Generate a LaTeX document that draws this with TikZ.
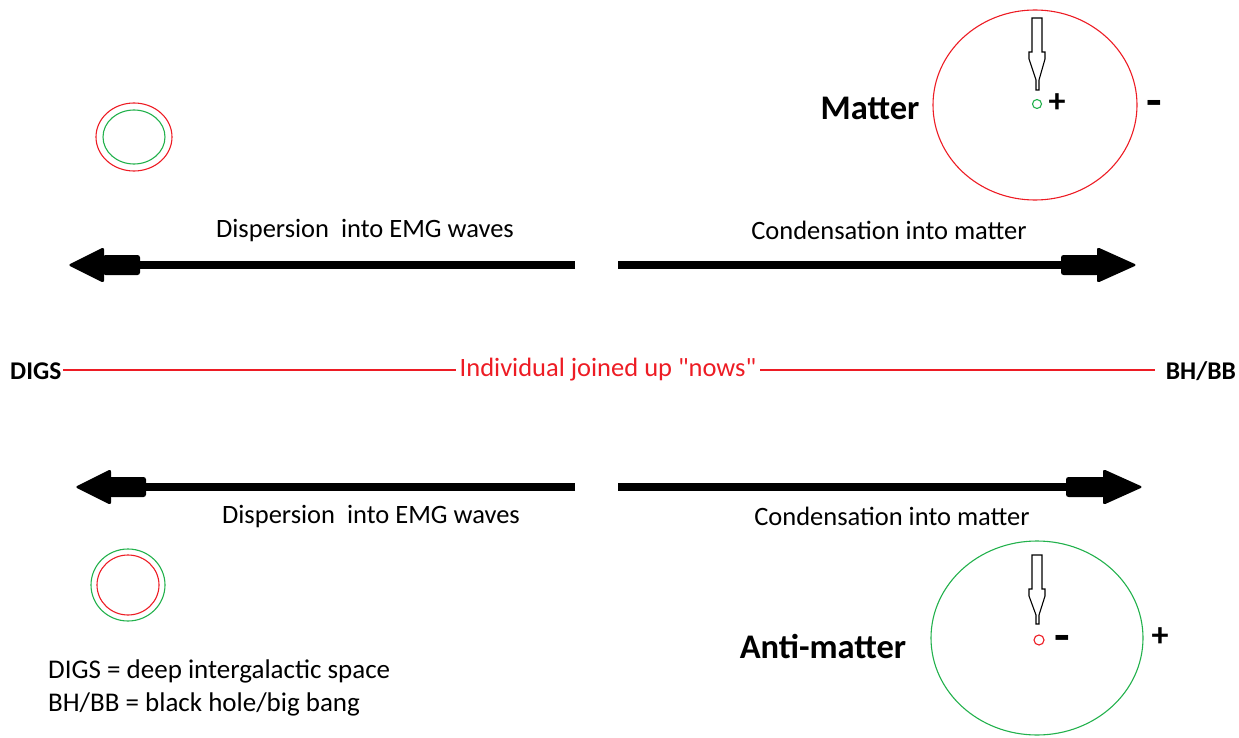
\documentclass[tikz,border=0pt]{standalone}
\usepackage{fontspec}
\setmainfont{Carlito}
\newfontfamily\rawfont{Carlito}[Ligatures=TeXOff]
\definecolor{pred}{RGB}{237,28,36}
\definecolor{pgreen}{RGB}{34,177,76}
\newcommand{\bigminus}{\scalebox{1.5}[1.4]{-}}
\begin{document}
\begin{tikzpicture}[x=1pt,y=-1pt,
  lbl/.style={font=\fontsize{26.5}{30}\selectfont, inner sep=0pt},
  leg/.style={font=\fontsize{27}{31}\selectfont, inner sep=0pt},
  big/.style={font=\fontsize{34.5}{40}\selectfont\bfseries, inner sep=0pt},
  side/.style={font=\fontsize{25.5}{30}\selectfont\bfseries, inner sep=0pt},
  sign/.style={font=\fontsize{34}{40}\selectfont\bfseries, inner sep=0pt},
  shaft/.style={line width=8pt},
  blk/.style={fill=black, rounded corners=2.5pt},
  hollow/.style={draw=black, fill=white, line width=1.1pt},
  redc/.style={draw=pred, line width=1.1pt},
  greenc/.style={draw=pgreen, line width=1.1pt}]
\useasboundingbox (0,0) rectangle (1239,738);

% ---------- top arrows ----------
\coordinate (tl1) at (575,265); \coordinate (tl2) at (120,265);
\draw[shaft] (tl1) -- (tl2);
\fill[blk] (103,255) rectangle (140,275);
\fill[blk] (104,247) -- (68,265) -- (104,283) -- cycle;
\coordinate (tr1) at (618,265); \coordinate (tr2) at (1080,265);
\draw[shaft] (tr1) -- (tr2);
\fill[blk] (1061,255) rectangle (1099,275);
\fill[blk] (1097,247) -- (1137,265) -- (1097,283) -- cycle;
\node[lbl] (t1) at (365,231) {Dispersion\ \ into EMG waves};
\node[lbl] (t2) at (889,230) {Condensation into matter};

% ---------- bottom arrows ----------
\coordinate (bl1) at (575,487); \coordinate (bl2) at (125,487);
\draw[shaft] (bl1) -- (bl2);
\fill[blk] (109,477) rectangle (146,497);
\fill[blk] (111,469) -- (75,487) -- (111,505) -- cycle;
\coordinate (br1) at (618,487); \coordinate (br2) at (1085,487);
\draw[shaft] (br1) -- (br2);
\fill[blk] (1066,477) rectangle (1105,497);
\fill[blk] (1103,469) -- (1143,487) -- (1103,505) -- cycle;
\node[lbl] (b1) at (371,517) {Dispersion\ \ into EMG waves};
\node[lbl] (b2) at (892,516) {Condensation into matter};

% ---------- middle line ----------
\node[side, anchor=west] (digs) at (10,371) {DIGS};
\node[side, anchor=east] (bhbb) at (1236,371) {BH/BB};
\node[lbl, text=pred] (nows) at (608,370) {\rawfont Individual joined up "nows"};
\coordinate (m1) at (63,370); \coordinate (m2) at (456,370);
\coordinate (m3) at (760,370); \coordinate (m4) at (1155,370);
\draw[pred, line width=1.1pt] (m1) -- (m2);
\draw[pred, line width=1.1pt] (m3) -- (m4);

% ---------- matter ----------
\draw[redc] (1035,105) ellipse [x radius=102, y radius=95];
\node[greenc, circle, minimum size=9pt, inner sep=0pt] (gm) at (1037,104) {};
\node[sign] (mp) at (1057,103) {+};
\node[sign] (mm) at (1154,108) {\bigminus};
\node[big] (matter) at (870,108) {Matter};
\draw[hollow] (1032,18) -- (1042,18) -- (1042,52) -- (1045,52) -- (1045,59)
  -- (1039,80) -- (1039,90) -- (1036,90) -- (1036,80) -- (1029,59) -- (1029,52) -- (1032,52) -- cycle;

% ---------- anti-matter ----------
\draw[greenc] (1037,638) ellipse [x radius=106, y radius=97];
\node[redc, circle, minimum size=10pt, inner sep=0pt] (ra) at (1039,640) {};
\node[sign] (am) at (1062,643) {\bigminus};
\node[sign] (ap) at (1160,637) {+};
\node[big] (anti) at (823,646) {Anti-matter};
\draw[hollow] (1032,555) -- (1042,555) -- (1042,589) -- (1045,589) -- (1045,596)
  -- (1039,615) -- (1039,624) -- (1036,624) -- (1036,615) -- (1029,596) -- (1029,589) -- (1032,589) -- cycle;

% ---------- small circle pairs ----------
\draw[redc] (134,137) ellipse [x radius=38, y radius=34];
\draw[greenc] (134,137) ellipse [x radius=31, y radius=27];
\draw[greenc] (128,585) ellipse [x radius=37, y radius=36];
\draw[redc] (128,585) ellipse [x radius=31, y radius=30];

% ---------- legend ----------
\node[leg, anchor=west] (leg1) at (48,671) {DIGS = deep intergalactic space};
\node[leg, anchor=west] (leg2) at (48,704) {BH/BB = black hole/big bang};
\end{tikzpicture}
\end{document}
